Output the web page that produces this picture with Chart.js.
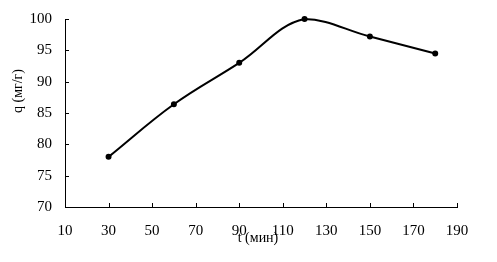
<!DOCTYPE html>
<html>
<head>
<meta charset="utf-8">
<script src="https://cdn.jsdelivr.net/npm/chart.js@4/dist/chart.umd.min.js"></script>
<style>
  html, body { margin: 0; padding: 0; background: #fff; }
  #wrap { width: 497px; height: 262px; }
</style>
</head>
<body>
<div id="wrap"><canvas id="c"></canvas></div>
<script>
// data
const times = [30, 60, 90, 120, 150, 180];
const qValues = [78, 86.4, 93, 100, 97.2, 94.5];
const xTicks = [10, 30, 50, 70, 90, 110, 130, 150, 170, 190];
const yTicks = [70, 75, 80, 85, 90, 95, 100];

const FONT = 'Liberation Serif, Times New Roman, serif';

// ticks point inward like the original, and titles sit where Excel put them
const innerTicks = {
    id: 'innerTicks',
    afterDraw(chart) {
        const ctx = chart.ctx;
        const x = chart.scales.x, y = chart.scales.y;
        ctx.save();
        ctx.strokeStyle = '#000';
        ctx.lineWidth = 1;
        ctx.beginPath();
        xTicks.forEach(v => {
            const px = Math.round(x.getPixelForValue(v)) + 0.5;
            ctx.moveTo(px, y.bottom);
            ctx.lineTo(px, y.bottom - 4);
        });
        yTicks.forEach(v => {
            const py = Math.round(y.getPixelForValue(v)) + 0.5;
            ctx.moveTo(x.left, py);
            ctx.lineTo(x.left + 4, py);
        });
        ctx.stroke();

        ctx.fillStyle = '#000';
        ctx.font = '14px ' + FONT;
        ctx.textAlign = 'center';
        ctx.textBaseline = 'middle';
        ctx.fillText('t (мин)', (x.left + x.right) / 2 - 3, 238);
        ctx.translate(18, 91);
        ctx.rotate(-Math.PI / 2);
        ctx.fillText('q (мг/г)', 0, 0);
        ctx.restore();
    }
};

new Chart(document.getElementById('c'), {
    type: 'line',
    data: {
        datasets: [{
            data: times.map((t, i) => ({ x: t, y: qValues[i] })),
            borderColor: '#000',
            backgroundColor: '#000',
            borderWidth: 2,
            pointRadius: 2,
            pointHoverRadius: 2,
            tension: 0.38,
            fill: false,
            clip: false
        }]
    },
    options: {
        responsive: true,
        maintainAspectRatio: false,
        animation: false,
        layout: { padding: { top: 19, right: 40, left: 0, bottom: 0 } },
        plugins: { legend: { display: false }, tooltip: { enabled: false } },
        scales: {
            x: {
                type: 'linear',
                min: 10,
                max: 190,
                afterBuildTicks: s => { s.ticks = xTicks.map(v => ({ value: v })); },
                afterFit: s => { s.height = 55; s.paddingLeft = 0; s.paddingRight = 0; },
                grid: { drawOnChartArea: false, drawTicks: false },
                border: { color: '#000', width: 1 },
                ticks: { color: '#000', font: { family: FONT, size: 15 }, padding: 15, maxRotation: 0 }
            },
            y: {
                min: 70,
                max: 100,
                afterBuildTicks: s => { s.ticks = yTicks.map(v => ({ value: v })); },
                afterFit: s => { s.width = 65; s.paddingTop = 0; s.paddingBottom = 0; },
                grid: { drawOnChartArea: false, drawTicks: false },
                border: { color: '#000', width: 1 },
                ticks: { color: '#000', font: { family: FONT, size: 15 }, padding: 13 }
            }
        }
    },
    plugins: [innerTicks]
});
</script>
</body>
</html>
